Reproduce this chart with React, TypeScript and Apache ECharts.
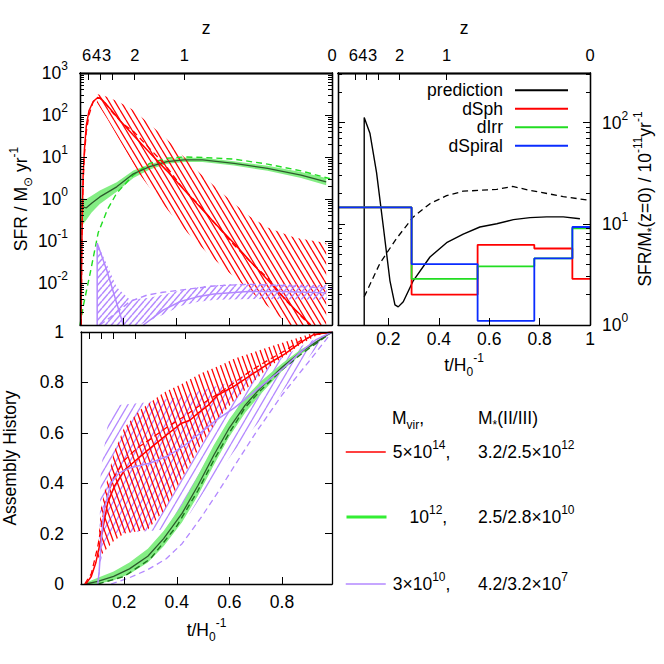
import React, { useEffect, useRef } from 'react';
import * as echarts from 'echarts';

// ---------------- axis values ----------------
const zTickT = [0.068, 0.114, 0.158, 0.243, 0.431];
const zLabelT = [0.061, 0.099, 0.137, 0.244, 0.431];
const zLabels = ['6', '4', '3', '2', '1'];
const tTicks = [0.2, 0.4, 0.6, 0.8];
const tLabelsRight = [0.2, 0.4, 0.6, 0.8, 1.0];
const assemblyTicks = [0, 0.2, 0.4, 0.6, 0.8, 1];

// ---------------- top-left: log10 SFR [Msun/yr] vs t ----------------
const tlRedSolidLog = [[0.040, -3], [0.042, -1.5], [0.045, -0.3], [0.048, 0.6], [0.053, 1.2], [0.06, 1.75], [0.07, 2.1], [0.086, 2.32], [0.1, 2.4], [0.111, 2.4], [0.125, 2.33], [0.15, 2.15], [0.19, 1.85], [0.238, 1.52], [0.3, 1.1], [0.365, 0.67], [0.43, 0.22], [0.492, -0.2], [0.55, -0.6], [0.618, -1.05], [0.68, -1.48], [0.746, -1.92], [0.8, -2.3], [0.85, -2.63], [0.91, -3]];
const tlRedDashedLog = [[0.041, -3], [0.043, -1.0], [0.047, 0.2], [0.052, 1.0], [0.06, 1.6], [0.07, 2.0], [0.085, 2.3], [0.1, 2.42], [0.115, 2.4], [0.13, 2.3], [0.16, 2.05], [0.2, 1.78], [0.24, 1.6], [0.3, 1.2], [0.36, 0.8], [0.42, 0.3], [0.48, -0.1], [0.55, -0.6], [0.62, -1.1], [0.69, -1.55], [0.75, -1.9], [0.82, -2.45], [0.89, -2.9], [0.905, -3]];
const tlRedBandUpperLog = [[0.1, 2.5], [0.13, 2.45], [0.18, 2.32], [0.238, 2.12], [0.3, 1.78], [0.365, 1.42], [0.43, 1.0], [0.492, 0.6], [0.555, 0.25], [0.618, -0.1], [0.68, -0.42], [0.746, -0.68], [0.85, -0.92], [0.968, -1.05]];
const tlRedBandLowerLog = [[0.1, 2.3], [0.14, 1.9], [0.2, 1.25], [0.26, 0.6], [0.32, 0.1], [0.38, -0.35], [0.45, -0.85], [0.52, -1.3], [0.6, -1.75], [0.7, -2.3], [0.8, -2.85], [0.83, -3.0], [0.968, -3]];

const tlGreenSolidLog = [[0.04, -0.18], [0.06, -0.21], [0.08, -0.1], [0.111, 0.05], [0.175, 0.29], [0.238, 0.6], [0.3, 0.77], [0.365, 0.89], [0.43, 0.93], [0.5, 0.93], [0.619, 0.85], [0.746, 0.73], [0.873, 0.57], [0.968, 0.41]];
const tlGreenBandUpperLog = [[0.04, 0.02], [0.06, 0.0], [0.08, 0.08], [0.111, 0.2], [0.175, 0.4], [0.238, 0.68], [0.3, 0.83], [0.365, 0.94], [0.43, 0.98], [0.5, 0.98], [0.619, 0.9], [0.746, 0.79], [0.873, 0.64], [0.968, 0.5]];
const tlGreenBandLowerLog = [[0.04, -0.66], [0.06, -0.5], [0.08, -0.32], [0.111, -0.12], [0.175, 0.17], [0.238, 0.5], [0.3, 0.7], [0.365, 0.84], [0.43, 0.88], [0.5, 0.88], [0.619, 0.8], [0.746, 0.67], [0.873, 0.5], [0.968, 0.33]];
const tlGreenDashedLog = [[0.036, -3], [0.05, -2.5], [0.075, -1.75], [0.105, -0.8], [0.14, -0.25], [0.175, 0.14], [0.238, 0.57], [0.3, 0.85], [0.365, 0.97], [0.43, 1.0], [0.5, 0.99], [0.619, 0.95], [0.746, 0.83], [0.873, 0.67], [0.99, 0.47]];

const tlPurpleSolidALog = [[0.101, -3], [0.101, -1.05], [0.137, -1.69], [0.175, -2.48], [0.2, -3]];
const tlPurpleSolidBLog = [[0.276, -3], [0.352, -2.64], [0.416, -2.44], [0.48, -2.33], [0.543, -2.26], [0.67, -2.2], [0.797, -2.2], [0.962, -2.23]];
const tlPurpleDashedLog = [[0.111, -3], [0.15, -2.82], [0.187, -2.64], [0.225, -2.44], [0.289, -2.29], [0.35, -2.22], [0.416, -2.17], [0.543, -2.07], [0.67, -2.03], [0.8, -2.06], [0.99, -2.13]];
const tlPurpleBandUpperLog = [[0.101, -1.05], [0.137, -1.55], [0.175, -2.1], [0.225, -2.4], [0.3, -2.35], [0.4, -2.2], [0.5, -2.08], [0.6, -2.03], [0.75, -2.02], [0.97, -2.05]];
const tlPurpleBandLowerLog = [[0.101, -3], [0.26, -3], [0.352, -2.75], [0.416, -2.55], [0.48, -2.45], [0.55, -2.4], [0.7, -2.38], [0.97, -2.4]];

// ---------------- top-right: SFR/M*(z=0) [1e-11 / yr] ----------------
const trPrediction = [[0.104, 1.0], [0.104, 112], [0.127, 78], [0.153, 32], [0.18, 9.3], [0.206, 2.75], [0.226, 1.58], [0.239, 1.51], [0.259, 1.7], [0.299, 2.75], [0.365, 4.7], [0.431, 6.5], [0.497, 7.9], [0.563, 9.3], [0.63, 10], [0.696, 11], [0.762, 11.5], [0.828, 11.7], [0.894, 11.7], [0.96, 11.2]];
const trPredictionDashed = [[0.104, 1.9], [0.167, 4.1], [0.233, 7.2], [0.299, 11.7], [0.365, 15.8], [0.431, 19], [0.497, 21], [0.563, 21.4], [0.63, 21.9], [0.693, 23.4], [0.762, 21.4], [0.894, 18.6], [1.0, 17]];
const binEdges = [0, 0.292, 0.554, 0.779, 0.93, 1.0];
const dSph = [14.5, 2.0, 6.2, 5.7, 2.85];
const dIrr = [14.5, 2.85, 3.8, 4.55, 9.0];
const dSpiral = [14.5, 4.0, 1.1, 4.55, 9.3];

// ---------------- bottom-left: assembly history ----------------
const bRedSolid = [[0.054, 0], [0.075, 0.03], [0.092, 0.083], [0.111, 0.175], [0.137, 0.32], [0.162, 0.386], [0.2, 0.45], [0.238, 0.485], [0.289, 0.53], [0.352, 0.584], [0.416, 0.637], [0.45, 0.65], [0.48, 0.677], [0.52, 0.71], [0.556, 0.75], [0.619, 0.785], [0.683, 0.83], [0.746, 0.873], [0.81, 0.912], [0.873, 0.96], [0.92, 0.99], [0.99, 1.0]];
const bRedDashed = [[0.05, 0], [0.075, 0.04], [0.1, 0.15], [0.13, 0.33], [0.16, 0.42], [0.2, 0.49], [0.25, 0.54], [0.3, 0.575], [0.36, 0.62], [0.42, 0.66], [0.49, 0.71], [0.55, 0.75], [0.62, 0.8], [0.68, 0.845], [0.75, 0.89], [0.81, 0.925], [0.87, 0.965], [0.93, 0.99], [0.99, 1.0]];
const bRedBandUpper = [[0.1, 0.15], [0.111, 0.3], [0.13, 0.39], [0.16, 0.52], [0.2, 0.62], [0.26, 0.69], [0.35, 0.76], [0.42, 0.795], [0.49, 0.835], [0.57, 0.87], [0.62, 0.895], [0.75, 0.94], [0.87, 0.98], [0.93, 1.0], [0.99, 1.0]];
const bRedBandLower = [[0.1, 0.1], [0.16, 0.17], [0.2, 0.2], [0.29, 0.215], [0.35, 0.29], [0.42, 0.42], [0.49, 0.55], [0.56, 0.66], [0.62, 0.73], [0.68, 0.79], [0.75, 0.86], [0.81, 0.905], [0.87, 0.95], [0.93, 0.985], [0.99, 1.0]];

const bGreenSolid = [[0.054, 0], [0.1, 0.01], [0.16, 0.03], [0.22, 0.06], [0.29, 0.11], [0.35, 0.18], [0.42, 0.28], [0.48, 0.39], [0.54, 0.51], [0.6, 0.62], [0.66, 0.71], [0.72, 0.78], [0.8, 0.86], [0.87, 0.92], [0.93, 0.96], [0.99, 1.0]];
const bGreenBandUpper = [[0.054, 0.005], [0.1, 0.025], [0.16, 0.05], [0.22, 0.085], [0.29, 0.14], [0.35, 0.21], [0.42, 0.315], [0.48, 0.43], [0.54, 0.55], [0.6, 0.655], [0.66, 0.74], [0.72, 0.805], [0.8, 0.875], [0.87, 0.93], [0.93, 0.965], [0.99, 1.0]];
const bGreenBandLower = [[0.054, 0], [0.1, 0], [0.16, 0.015], [0.22, 0.04], [0.29, 0.085], [0.35, 0.15], [0.42, 0.245], [0.48, 0.35], [0.54, 0.47], [0.6, 0.585], [0.66, 0.68], [0.72, 0.755], [0.8, 0.845], [0.87, 0.91], [0.93, 0.955], [0.99, 1.0]];
const bGreenDashed = [[0.1, 0], [0.2, 0.03], [0.3, 0.1], [0.4, 0.23], [0.48, 0.37], [0.54, 0.49], [0.6, 0.6], [0.66, 0.7], [0.72, 0.77], [0.8, 0.85], [0.87, 0.91], [0.93, 0.955], [0.99, 1.0]];

const bPurpleSolid = [[0.1, 0], [0.105, 0.05], [0.115, 0.2], [0.125, 0.3], [0.15, 0.4], [0.18, 0.44], [0.22, 0.46], [0.3, 0.48], [0.37, 0.51], [0.43, 0.55], [0.49, 0.6], [0.55, 0.65], [0.62, 0.7], [0.68, 0.75], [0.75, 0.81], [0.81, 0.86], [0.87, 0.92], [0.93, 0.97], [0.99, 1.0]];
const bPurpleDashed = [[0.15, 0], [0.22, 0.025], [0.29, 0.057], [0.36, 0.1], [0.42, 0.16], [0.49, 0.26], [0.56, 0.37], [0.62, 0.47], [0.7, 0.6], [0.8, 0.75], [0.9, 0.88], [0.99, 1.0]];
const bPurpleBandUpper = [[0.104, 0.1], [0.111, 0.45], [0.14, 0.65], [0.18, 0.71], [0.28, 0.72], [0.4, 0.74], [0.5, 0.77], [0.6, 0.8], [0.7, 0.85], [0.8, 0.9], [0.9, 0.96], [0.99, 1.0]];
const bPurpleBandLower = [[0.104, 0.02], [0.12, 0.15], [0.16, 0.2], [0.3, 0.21], [0.38, 0.22], [0.45, 0.28], [0.5, 0.36], [0.62, 0.53], [0.75, 0.69], [0.87, 0.86], [0.95, 0.96], [0.99, 1.0]];

// ---------------- legend texts ----------------
const haloNames = ['m14', 'm12', 'm10'];
const haloMvir = ['{n|5×10}{sup|14}{n|,}', '{sp|}{n|10}{sup|12}{n|,}', '{n|3×10}{sup|10}{n|,}'];
const haloMstar = ['{n|3.2/2.5×10}{sup|12}', '{n|2.5/2.8×10}{sup|10}', '{n|4.2/3.2×10}{sup|7}'];

// ---------------- styling ----------------
const FONT = '"Liberation Sans", Arial, Helvetica, sans-serif';
const FS = 17.5;
const RED = '#ff0000';
const PURPLE = '#b388ff';
const GREEN_BAND = '#84ee84';
const GREEN_DARK = '#2c5c2c';
const BLUE = '#0a2cff';
const rich: any = {
  n: { fontFamily: FONT, fontSize: FS, color: '#000', lineHeight: 26 },
  sup: { fontFamily: FONT, fontSize: 12, color: '#000', lineHeight: 12, verticalAlign: 'top' },
  sub: { fontFamily: FONT, fontSize: 12, color: '#000', lineHeight: 12, verticalAlign: 'bottom' },
  sp: { width: 16 },
};

const log10 = (a: number[][]) => a.map(p => [p[0], Math.log10(p[1])]);
const steps = (vals: number[]) => binEdges.map((t, i) => [t, Math.log10(vals[Math.min(i, vals.length - 1)])]);

function hatch(color: string, p: number, h: number, dir: string, lw: number) {
  const s = 4;
  const c = document.createElement('canvas');
  c.width = p * s;
  c.height = h * s;
  const ctx = c.getContext('2d')!;
  ctx.scale(s, s);
  ctx.strokeStyle = color;
  ctx.lineWidth = lw;
  for (const k of [-1, 0, 1]) {
    ctx.beginPath();
    if (dir === '\\') { ctx.moveTo(k * p, 0); ctx.lineTo(k * p + p, h); }
    else { ctx.moveTo(k * p, h); ctx.lineTo(k * p + p, 0); }
    ctx.stroke();
  }
  return { image: c, repeat: 'repeat', imageWidth: p, imageHeight: h };
}

const frame = { show: true, onZero: false, lineStyle: { color: '#000', width: 1.3 } };
const nameStyle = { fontFamily: FONT, fontSize: FS, color: '#000', rich };

function axis(o: any) {
  return {
    type: 'value', gridIndex: o.grid, position: o.pos, min: o.min, max: o.max,
    axisLine: frame,
    axisTick: { show: true, inside: true, length: o.len ?? 7, customValues: o.ticks, lineStyle: { color: '#000', width: 1 } },
    axisLabel: o.labels
      ? { show: true, customValues: o.labels, formatter: o.fmt, margin: o.margin, color: '#000', fontFamily: FONT, fontSize: o.fs ?? FS, rich, showMinLabel: true, showMaxLabel: true, hideOverlap: false }
      : { show: false },
    splitLine: { show: false },
    minorTick: { show: false },
    name: o.name, nameLocation: 'middle', nameGap: o.nameGap, nameRotate: o.nameRotate, nameTextStyle: nameStyle,
    z: 10,
  };
}

const zFmt = (v: number) => {
  if (v > 0.9) return '0';
  let best = 0, d = Infinity;
  zLabelT.forEach((t, i) => { const dd = Math.abs(t - v); if (dd < d) { d = dd; best = i; } });
  return zLabels[best];
};
const expFmt = (v: number) => `{n|10}{sup|${Math.round(v)}}`;
const numFmt = (v: number) => (v === 0 || v === 1 ? String(v) : v.toFixed(1));

function minorLogTicks(lo: number, hi: number) {
  const out: number[] = [];
  for (let n = Math.floor(lo); n <= hi; n++) {
    for (let k = 2; k <= 9; k++) {
      const v = n + Math.log10(k);
      if (v > lo && v < hi) out.push(v);
    }
  }
  return out;
}

// z labels are crowded, so they are spread over three top axes (no overlap hiding)
function zAxes(grid: number, min: number, max: number) {
  return [
    axis({ grid, pos: 'top', min, max, ticks: zTickT, labels: [zLabelT[0], zLabelT[3], max], fmt: zFmt, margin: 10, fs: 16.5, name: '{n|z}', nameGap: 32 }),
    axis({ grid, pos: 'top', min, max, ticks: [], labels: [zLabelT[1], zLabelT[4]], fmt: zFmt, margin: 10, fs: 16.5 }),
    axis({ grid, pos: 'top', min, max, ticks: [], labels: [zLabelT[2]], fmt: zFmt, margin: 10, fs: 16.5 }),
  ];
}

function line(name: string, data: number[][], xi: number, yi: number, color: string, width: number, dash?: any, extra: any = {}) {
  return {
    type: 'line', name, data, xAxisIndex: xi, yAxisIndex: yi, symbol: 'none', showSymbol: false,
    lineStyle: { color, width, type: dash ?? 'solid' }, itemStyle: { color }, z: 5, silent: true, clip: true,
    ...extra,
  };
}

function band(name: string, upper: number[][], lower: number[][], xi: number, yi: number, fill: any, z = 2) {
  return {
    type: 'custom', name, xAxisIndex: xi, yAxisIndex: yi, z, silent: true, clip: true,
    data: [[upper[0][0], upper[0][1]]],
    encode: { x: 0, y: 1 },
    renderItem: (_params: any, api: any) => {
      const pts = upper.map(p => api.coord(p)).concat(lower.slice().reverse().map(p => api.coord(p)));
      return { type: 'polygon', shape: { points: pts }, style: { fill, stroke: null } };
    },
  };
}

function haloLegend(i: number, top: number, color: string, width: number) {
  return {
    data: [{ name: haloNames[i], lineStyle: { color, width } }],
    orient: 'vertical', align: 'left', left: 345, top, padding: 0,
    itemWidth: 40, itemHeight: 14, selectedMode: false,
    itemStyle: { opacity: 0 },
    formatter: (name: string) => haloMvir[haloNames.indexOf(name)],
    textStyle: { fontFamily: FONT, fontSize: FS, color: '#000', rich, padding: [0, 0, 0, 2] },
  };
}

function buildOption() {
  const L0 = 0.036, L1 = 0.99;
  const tlMin = -3, tlMax = 3;
  const trMin = 0, trMax = 2.49;
  const tNameL = '{n|t/H}{sub|0}{sup|-1}';

  // x axis indices: 0 TL bottom, 1-3 TL top, 4 TR bottom, 5-7 TR top, 8 BL bottom, 9 BL top
  const xAxis = [
    axis({ grid: 0, pos: 'bottom', min: L0, max: L1, ticks: tTicks }),
    ...zAxes(0, L0, L1),
    axis({ grid: 1, pos: 'bottom', min: 0, max: 1, ticks: tTicks, labels: tLabelsRight, fmt: numFmt, margin: 5, name: tNameL, nameGap: 27 }),
    ...zAxes(1, 0, 1),
    axis({ grid: 2, pos: 'bottom', min: L0, max: L1, ticks: tTicks, labels: tTicks, fmt: numFmt, margin: 9, name: tNameL, nameGap: 33 }),
    axis({ grid: 2, pos: 'top', min: L0, max: L1, ticks: zTickT }),
  ];
  const tlMajor = [-3, -2, -1, 0, 1, 2, 3];
  const trMajor = [0, 1, 2];
  const yAxis = [
    axis({ grid: 0, pos: 'left', min: tlMin, max: tlMax, ticks: tlMajor, labels: [-2, -1, 0, 1, 2, 3], fmt: expFmt, margin: 12, name: '{n|SFR / M}{sub|⊙}{n| yr}{sup|-1}', nameGap: 35, nameRotate: 90 }),
    axis({ grid: 0, pos: 'left', min: tlMin, max: tlMax, ticks: minorLogTicks(tlMin, tlMax), len: 4 }),
    axis({ grid: 0, pos: 'right', min: tlMin, max: tlMax, ticks: tlMajor }),
    axis({ grid: 0, pos: 'right', min: tlMin, max: tlMax, ticks: minorLogTicks(tlMin, tlMax), len: 4 }),
    axis({ grid: 1, pos: 'left', min: trMin, max: trMax, ticks: trMajor }),
    axis({ grid: 1, pos: 'left', min: trMin, max: trMax, ticks: minorLogTicks(trMin, trMax), len: 4 }),
    axis({ grid: 1, pos: 'right', min: trMin, max: trMax, ticks: trMajor, labels: trMajor, fmt: expFmt, margin: 12, name: '{n|SFR/M}{sub|*}{n|(z=0) / 10}{sup|-11}{n|yr}{sup|-1}', nameGap: 40, nameRotate: 90 }),
    axis({ grid: 1, pos: 'right', min: trMin, max: trMax, ticks: minorLogTicks(trMin, trMax), len: 4 }),
    axis({ grid: 2, pos: 'left', min: 0, max: 1, ticks: assemblyTicks, labels: assemblyTicks, fmt: numFmt, margin: 17, name: '{n|Assembly History}', nameGap: 58, nameRotate: 90 }),
    axis({ grid: 2, pos: 'right', min: 0, max: 1, ticks: assemblyTicks }),
  ];

  const redHatchTop = hatch(RED, 6, 10, '\\', 1.3);
  const purpleHatchTop = hatch(PURPLE, 6, 7, '/', 1.5);
  const redHatchBottom = hatch(RED, 5, 14, '\\', 1.3);
  const purpleHatchBottom = hatch(PURPLE, 7, 12, '/', 1.3);

  const series: any[] = [
    // top-left
    band('tlGreenBand', tlGreenBandUpperLog, tlGreenBandLowerLog, 0, 0, GREEN_BAND, 1),
    band('tlRedBand', tlRedBandUpperLog, tlRedBandLowerLog, 0, 0, redHatchTop),
    band('tlPurpleBand', tlPurpleBandUpperLog, tlPurpleBandLowerLog, 0, 0, purpleHatchTop),
    line('tlGreenDashed', tlGreenDashedLog, 0, 0, '#22dd22', 1.4, [6, 4]),
    line('tlGreenSolid', tlGreenSolidLog, 0, 0, GREEN_DARK, 1.3),
    line('tlRedDashed', tlRedDashedLog, 0, 0, RED, 1.3, [6, 4]),
    line('tlRedSolid', tlRedSolidLog, 0, 0, RED, 1.5),
    line('tlPurpleDashed', tlPurpleDashedLog, 0, 0, PURPLE, 1.4, [6, 4]),
    line('tlPurpleSolidA', tlPurpleSolidALog, 0, 0, PURPLE, 1.5),
    line('tlPurpleSolidB', tlPurpleSolidBLog, 0, 0, PURPLE, 1.5),
    // top-right
    line('predictionDashed', log10(trPredictionDashed), 4, 4, '#000', 1.3, [6, 4]),
    line('prediction', log10(trPrediction), 4, 4, '#000', 1.4),
    line('dSph', steps(dSph), 4, 4, RED, 1.8, undefined, { step: 'end' }),
    line('dIrr', steps(dIrr), 4, 4, '#22dd22', 1.8, undefined, { step: 'end' }),
    line('dSpiral', steps(dSpiral), 4, 4, BLUE, 1.8, undefined, { step: 'end' }),
    // bottom-left
    band('bPurpleBand', bPurpleBandUpper, bPurpleBandLower, 8, 8, purpleHatchBottom),
    band('bRedBand', bRedBandUpper, bRedBandLower, 8, 8, redHatchBottom),
    band('bGreenBand', bGreenBandUpper, bGreenBandLower, 8, 8, GREEN_BAND, 3),
    line('bPurpleDashed', bPurpleDashed, 8, 8, PURPLE, 1.3, [6, 4]),
    line('bGreenDashed', bGreenDashed, 8, 8, '#1e7a1e', 1.4, [6, 4]),
    line('m12', bGreenSolid, 8, 8, GREEN_DARK, 1.3),
    line('bRedDashed', bRedDashed, 8, 8, RED, 1.3, [6, 4]),
    line('m14', bRedSolid, 8, 8, RED, 1.5),
    line('m10', bPurpleSolid, 8, 8, PURPLE, 1.5),
  ];

  return {
    animation: false,
    backgroundColor: '#fff',
    textStyle: { fontFamily: FONT },
    grid: [
      { left: 80, top: 73, width: 252, height: 252 },
      { left: 338, top: 73, width: 252, height: 252 },
      { left: 80, top: 332, width: 252, height: 252 },
    ],
    xAxis,
    yAxis,
    legend: [
      {
        data: ['prediction', 'dSph', 'dIrr', 'dSpiral'],
        orient: 'vertical', align: 'right', right: 95, top: 81, padding: 0,
        itemWidth: 53, itemHeight: 10, itemGap: 0, selectedMode: false,
        itemStyle: { opacity: 0 },
        textStyle: { fontFamily: FONT, fontSize: FS, color: '#000', lineHeight: 18.5, padding: [0, 7, 0, 0] },
      },
      haloLegend(0, 439, RED, 1.5),
      haloLegend(1, 504, '#33ee33', 3),
      haloLegend(2, 571, PURPLE, 1.5),
    ],
    graphic: [
      { type: 'text', x: 392, y: 418, style: { text: '{n|M}{sub|vir}{n|,}', rich, verticalAlign: 'middle', align: 'left' } },
      { type: 'text', x: 478, y: 418, style: { text: '{n|M}{sub|*}{n|(II/III)}', rich, verticalAlign: 'middle', align: 'left' } },
      { type: 'text', x: 478, y: 452, style: { text: haloMstar[0], rich, verticalAlign: 'middle', align: 'left' } },
      { type: 'text', x: 478, y: 517, style: { text: haloMstar[1], rich, verticalAlign: 'middle', align: 'left' } },
      { type: 'text', x: 478, y: 584, style: { text: haloMstar[2], rich, verticalAlign: 'middle', align: 'left' } },
    ],
    series,
  };
}

export default function App() {
  const ref = useRef<HTMLDivElement>(null);
  useEffect(() => {
    document.body.style.margin = '0';
    const chart = echarts.init(ref.current!, null, { renderer: 'svg' });
    chart.setOption(buildOption() as any);
    return () => chart.dispose();
  }, []);
  return <div ref={ref} style={{ width: 664, height: 664 }} />;
}
